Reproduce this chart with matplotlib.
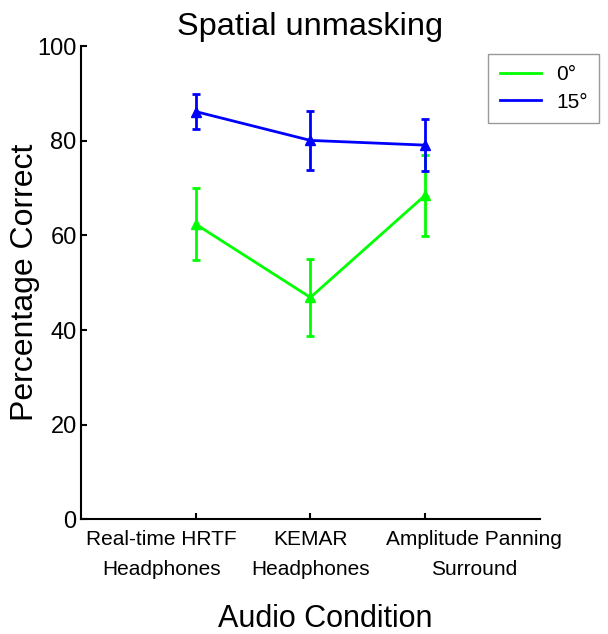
import matplotlib
matplotlib.use("Agg")
import matplotlib.pyplot as plt
import matplotlib.transforms as mtransforms
from matplotlib.lines import Line2D

plt.rcParams['font.family'] = ['Liberation Sans', 'DejaVu Sans']

# data
conditions = ["Real-time HRTF\nHeadphones", "KEMAR\nHeadphones", "Amplitude Panning\nSurround"]
x_pos = [1, 2, 3]
mean_0 = [62.4, 46.9, 68.5]
err_0 = [7.6, 8.2, 8.6]
mean_15 = [86.2, 80.1, 79.1]
err_15 = [3.7, 6.3, 5.5]
labels = ["0°", "15°"]

fig = plt.figure(figsize=(6.08, 6.34), dpi=100)
ax = fig.add_axes([0.133, 0.181, 0.755, 0.746])

ax.errorbar(x_pos, mean_0, yerr=err_0, color=(0, 1, 0), lw=2, marker='^',
            markersize=6.5, capsize=3, capthick=2, elinewidth=2, label=labels[0])
ax.errorbar(x_pos, mean_15, yerr=err_15, color=(0, 0, 1), lw=2, marker='^',
            markersize=6.5, capsize=3, capthick=2, elinewidth=2, label=labels[1])

ax.set_xlim(0, 4)
ax.set_ylim(0, 100)
ax.set_xticks(x_pos)
ax.set_xticklabels(conditions, fontsize=15, linespacing=1.7)
ax.set_yticks([0, 20, 40, 60, 80, 100])
ax.tick_params(axis='y', labelsize=17, direction='in', length=4, width=1.5, pad=3)
ax.tick_params(axis='x', direction='in', length=4, width=1.5, pad=8)
for s in ['top', 'right']:
    ax.spines[s].set_visible(False)
for s in ['left', 'bottom']:
    ax.spines[s].set_linewidth(1.5)

# outer labels sit a bit away from their ticks in the original
shifts = [-34, 0, 49]
for lab, dx in zip(ax.get_xticklabels(), shifts):
    lab.set_transform(lab.get_transform() +
                      mtransforms.ScaledTranslation(dx / 100, 0, fig.dpi_scale_trans))

ax.set_title("Spatial unmasking", fontsize=23.4, pad=8)
ax.set_ylabel("Percentage Correct", fontsize=23)
ax.yaxis.set_label_coords(-0.09, 0.5)
ax.set_xlabel("Audio Condition", fontsize=22)
ax.xaxis.set_label_coords(0.532, -0.179)

# legend with plain lines
handles = [Line2D([], [], color=(0, 1, 0), lw=2), Line2D([], [], color=(0, 0, 1), lw=2)]
leg = fig.legend(handles, labels, loc='upper left', bbox_to_anchor=(0.803, 0.915),
                 borderaxespad=0, fontsize=15, fancybox=False, handlelength=2.0,
                 handletextpad=0.7, borderpad=0.55, labelspacing=0.4)
leg.get_frame().set_edgecolor('gray')
leg.get_frame().set_linewidth(1)

fig.savefig("out.png", dpi=100)
